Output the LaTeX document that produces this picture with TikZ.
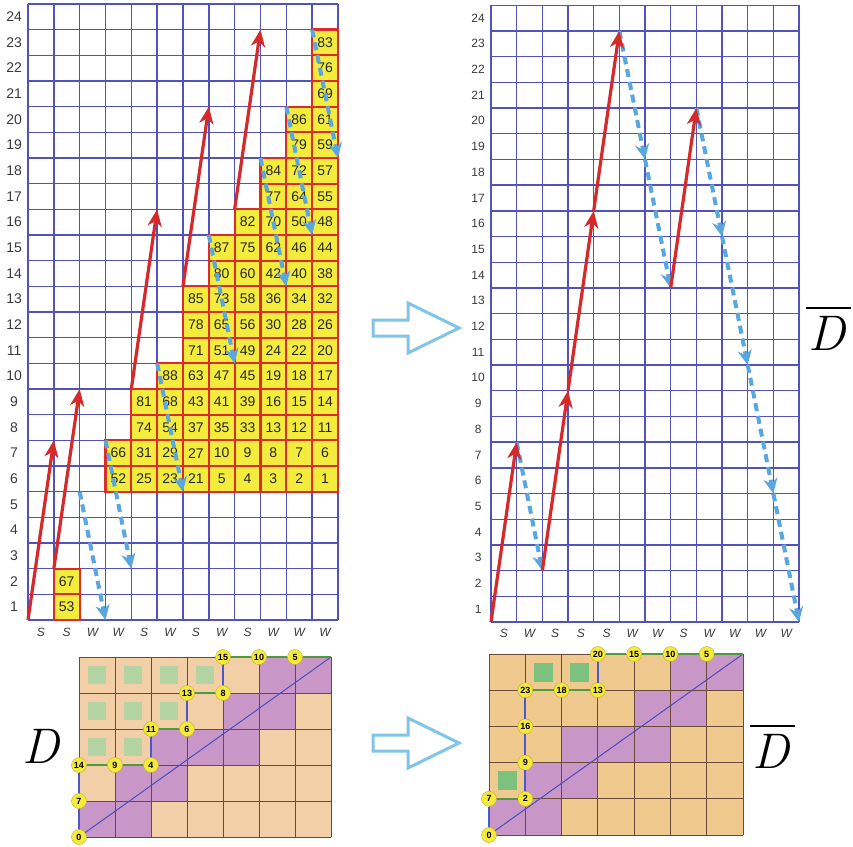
\documentclass[tikz,border=0pt]{standalone}
\usepackage{fontspec}
\setsansfont{Liberation Sans}
\usetikzlibrary{arrows.meta}
\definecolor{gridblue}{HTML}{5252BE}
\definecolor{cellyellow}{HTML}{F4EC3C}
\definecolor{cellred}{HTML}{DD2A2A}
\definecolor{arrred}{HTML}{D62A2A}
\definecolor{arrblue}{HTML}{5AA6DE}
\definecolor{hollow}{HTML}{80C4E6}
\definecolor{labgray}{HTML}{3A3A3A}
\definecolor{peachL}{HTML}{F3CFA8}
\definecolor{peachR}{HTML}{F0C98E}
\definecolor{purp}{HTML}{C897C8}
\definecolor{greenL}{HTML}{B4D4A4}
\definecolor{greenR}{HTML}{7CC27E}
\definecolor{brownline}{HTML}{6B4A3A}
\definecolor{diagblue}{HTML}{4B4BC0}
\definecolor{pathblue}{HTML}{4A58C8}
\definecolor{pathgreen}{HTML}{4E9A3C}
\definecolor{circyellow}{HTML}{F5EA3C}
\newcommand\colcells[3]{\foreach \v [count=\k from #2] in {#3} {\node[ycell] (c-#1-\k) at (#1+0.5,\k+0.5) {\v};}}
\newcommand\mygrid[3]{% style, ncols, nrows
  \foreach \gx in {0,...,#2} \draw[#1] (\gx,0) -- (\gx,#3);
  \foreach \gy in {0,...,#3} \draw[#1] (0,\gy) -- (#2,\gy);}
\begin{document}
\begin{tikzpicture}[x=1pt,y=-1pt,
  gridline/.style={draw=gridblue, line width=1.4pt},
  ycell/.style={rectangle, fill=cellyellow, draw=cellred, line width=2.2pt, minimum width=25.83pt, minimum height=25.67pt, inner sep=0pt, font=\sffamily\fontsize{14}{14}\selectfont, text=black!85},
  redarr/.style={draw=arrred, line width=3.2pt, -{Stealth[length=17pt,width=14pt,inset=5pt]}},
  bluearr/.style={draw=arrblue, line width=4pt, dash pattern=on 8pt off 5pt, -{Stealth[length=15pt,width=14pt,inset=5pt]}},
  rowlabL/.style={font=\sffamily\fontsize{14}{14}\selectfont, text=labgray, inner sep=0pt},
  rowlabR/.style={font=\sffamily\fontsize{12}{12}\selectfont, text=labgray, inner sep=0pt},
  collab/.style={font=\sffamily\itshape\fontsize{12}{12}\selectfont, text=labgray, inner sep=0pt},
  hollowarrow/.style={draw=hollow, line width=3pt, line join=miter, fill=white},
  smallgrid/.style={draw=brownline, line width=0.9pt},
  diag/.style={draw=diagblue, line width=1pt},
  vpath/.style={draw=pathblue, line width=2.2pt},
  hpath/.style={draw=pathgreen, line width=2.2pt},
  pt/.style={circle, fill=circyellow, draw=circyellow!75!black, line width=0.4pt, inner sep=0pt, minimum size=15pt, font=\sffamily\bfseries\fontsize{9}{9}\selectfont},
  bigD/.style={inner sep=0pt, font=\rmfamily\itshape\fontsize{50}{50}\selectfont},
  overbar/.style={draw=black, line width=2pt}
]
\useasboundingbox (0,0) rectangle (853,846);
\fill[white] (0,0) rectangle (853,846);

% ---------------- top-left grid ----------------
\begin{scope}[shift={(28pt,-620pt)}, x=25.83pt, y=25.67pt]
  \mygrid{gridline}{12}{24}
  \colcells{1}{0}{53,67}
  \colcells{3}{5}{52,66}
  \colcells{4}{5}{25,31,74,81}
  \colcells{5}{5}{23,29,54,68,88}
  \colcells{6}{5}{21,27,37,43,63,71,78,85}
  \colcells{7}{5}{5,10,35,41,47,51,65,73,80,87}
  \colcells{8}{5}{4,9,33,39,45,49,56,58,60,75,82}
  \colcells{9}{5}{3,8,13,16,19,24,30,36,42,62,70,77,84}
  \colcells{10}{5}{2,7,12,15,18,22,28,34,40,46,50,64,72,79,86}
  \colcells{11}{5}{1,6,11,14,17,20,26,32,38,44,48,55,57,59,61,69,76,83}
  \foreach \r in {1,...,24} \node[rowlabL] (lrow\r) at (-0.54,\r-0.5) {\r};
  \foreach \l [count=\i from 0] in {S,S,W,W,S,W,S,W,S,W,W,W}
    \node[collab] (lcol\i) at (\i+0.5,-0.5) {\l};
  \foreach \n/\xa/\ya in {1/2/5,2/3/7,3/5/10,4/7/15,5/9/18,6/10/20,7/11/23} {
    \coordinate (LB\n s) at (\xa,\ya);
    \coordinate (LB\n e) at (\xa+1,\ya-5);
    \draw[bluearr] (LB\n s) -- (LB\n e);
  }
  \foreach \n/\xa/\ya in {1/0/0,2/1/2,3/4/9,4/6/13,5/8/16} {
    \coordinate (LR\n s) at (\xa,\ya);
    \coordinate (LR\n e) at (\xa+1,\ya+7);
    \draw[redarr] (LR\n s) -- (LR\n e);
  }
\end{scope}

% ---------------- top-right grid ----------------
\begin{scope}[shift={(491pt,-622pt)}, x=25.67pt, y=25.7pt]
  \mygrid{gridline}{12}{24}
  \foreach \r in {1,...,24} \node[rowlabR] (rrow\r) at (-0.5,\r-0.5) {\r};
  \foreach \l [count=\i from 0] in {S,W,S,S,S,W,W,S,W,W,W,W}
    \node[collab] (rcol\i) at (\i+0.5,-0.43) {\l};
  \foreach \n/\xa/\ya in {1/1/7,2/5/23,3/6/18,4/8/20,5/9/15,6/10/10,7/11/5} {
    \coordinate (RB\n s) at (\xa,\ya);
    \coordinate (RB\n e) at (\xa+1,\ya-5);
    \draw[bluearr] (RB\n s) -- (RB\n e);
  }
  \foreach \n/\xa/\ya in {1/0/0,2/2/2,3/3/9,4/4/16,5/7/13} {
    \coordinate (RR\n s) at (\xa,\ya);
    \coordinate (RR\n e) at (\xa+1,\ya+7);
    \draw[redarr] (RR\n s) -- (RR\n e);
  }
\end{scope}

% ---------------- hollow arrows ----------------
\draw[hollowarrow] (373,320) -- (408,320) -- (408,303) -- (459,328) -- (408,353) -- (408,336) -- (373,336) -- cycle;
\draw[hollowarrow] (373,735) -- (408,735) -- (408,718) -- (459,743) -- (408,768) -- (408,751) -- (373,751) -- cycle;

% ---------------- big labels ----------------
\node[bigD, anchor=base west] (Dtop) at (808,350) {D};
\draw[overbar] ([shift={(-2pt,8pt)}]Dtop.north west) -- ([shift={(6pt,8pt)}]Dtop.north east);
\node[bigD, anchor=base west] (Dleft) at (22,763) {D};
\node[bigD, anchor=base west] (Dright) at (752,768) {D};
\draw[overbar] ([shift={(-2pt,8pt)}]Dright.north west) -- ([shift={(6pt,8pt)}]Dright.north east);

% ---------------- bottom-left small grid ----------------
\begin{scope}[shift={(79pt,-837pt)}, x=36pt, y=36pt]
  \fill[peachL] (0,0) rectangle (7,5);
  \foreach \i/\j in {0/0,1/0,1/1,2/1,2/2,3/2,4/2,4/3,5/3,5/4,6/4}
    \fill[purp] (\i,\j) rectangle ++(1,1);
  \foreach \i/\j in {0/4,1/4,2/4,3/4,0/3,1/3,2/3,0/2,1/2}
    \fill[greenL] (\i+0.25,\j+0.25) rectangle (\i+0.75,\j+0.75);
  \mygrid{smallgrid}{7}{5}
  \draw[diag] (0,0) -- (7,5);
  \node[pt] (a0) at (0,0) {0};
  \node[pt] (a7) at (0,1) {7};
  \node[pt] (a14) at (0,2) {14};
  \node[pt] (a9) at (1,2) {9};
  \node[pt] (a4) at (2,2) {4};
  \node[pt] (a11) at (2,3) {11};
  \node[pt] (a6) at (3,3) {6};
  \node[pt] (a13) at (3,4) {13};
  \node[pt] (a8) at (4,4) {8};
  \node[pt] (a15) at (4,5) {15};
  \node[pt] (a10) at (5,5) {10};
  \node[pt] (a5) at (6,5) {5};
  \coordinate (aend) at (7,5);
  \draw[vpath] (a0) -- (a7);
  \draw[vpath] (a7) -- (a14);
  \draw[hpath] (a14) -- (a9);
  \draw[hpath] (a9) -- (a4);
  \draw[vpath] (a4) -- (a11);
  \draw[hpath] (a11) -- (a6);
  \draw[vpath] (a6) -- (a13);
  \draw[hpath] (a13) -- (a8);
  \draw[vpath] (a8) -- (a15);
  \draw[hpath] (a15) -- (a10);
  \draw[hpath] (a10) -- (a5);
  \draw[hpath] (a5) -- (aend);
\end{scope}

% ---------------- bottom-right small grid ----------------
\begin{scope}[shift={(489pt,-835pt)}, x=36.29pt, y=36.2pt]
  \fill[peachR] (0,0) rectangle (7,5);
  \foreach \i/\j in {0/0,1/0,1/1,2/1,2/2,3/2,4/2,4/3,5/3,5/4,6/4}
    \fill[purp] (\i,\j) rectangle ++(1,1);
  \foreach \i/\j in {1/4,2/4,0/1}
    \fill[greenR] (\i+0.24,\j+0.24) rectangle (\i+0.76,\j+0.76);
  \mygrid{smallgrid}{7}{5}
  \draw[diag] (0,0) -- (7,5);
  \node[pt] (b0) at (0,0) {0};
  \node[pt] (b7) at (0,1) {7};
  \node[pt] (b2) at (1,1) {2};
  \node[pt] (b9) at (1,2) {9};
  \node[pt] (b16) at (1,3) {16};
  \node[pt] (b23) at (1,4) {23};
  \node[pt] (b18) at (2,4) {18};
  \node[pt] (b13) at (3,4) {13};
  \node[pt] (b20) at (3,5) {20};
  \node[pt] (b15) at (4,5) {15};
  \node[pt] (b10) at (5,5) {10};
  \node[pt] (b5) at (6,5) {5};
  \coordinate (bend) at (7,5);
  \draw[vpath] (b0) -- (b7);
  \draw[hpath] (b7) -- (b2);
  \draw[vpath] (b2) -- (b9);
  \draw[vpath] (b9) -- (b16);
  \draw[vpath] (b16) -- (b23);
  \draw[hpath] (b23) -- (b18);
  \draw[hpath] (b18) -- (b13);
  \draw[vpath] (b13) -- (b20);
  \draw[hpath] (b20) -- (b15);
  \draw[hpath] (b15) -- (b10);
  \draw[hpath] (b10) -- (b5);
  \draw[hpath] (b5) -- (bend);
\end{scope}
\end{tikzpicture}
\end{document}
